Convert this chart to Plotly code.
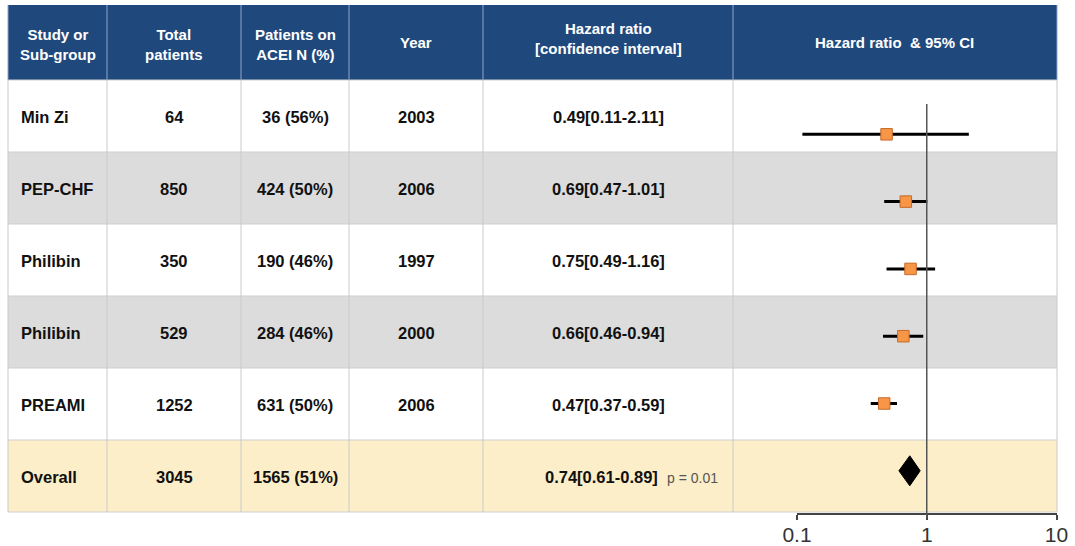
import plotly.graph_objects as go

# ---------------- data ----------------
studies = ["Min Zi", "PEP-CHF", "Philibin", "Philibin", "PREAMI", "Overall"]
total_patients = [64, 850, 350, 529, 1252, 3045]
acei_n = [36, 424, 190, 284, 631, 1565]
acei_pct = [56, 50, 46, 46, 50, 51]
years = ["2003", "2006", "1997", "2000", "2006", ""]
hr = [0.49, 0.69, 0.75, 0.66, 0.47, 0.74]
ci_low = [0.11, 0.47, 0.49, 0.46, 0.37, 0.61]
ci_high = [2.11, 1.01, 1.16, 0.94, 0.59, 0.89]
overall_p = "p = 0.01"
headers = ["Study or<br>Sub-group", "Total<br>patients", "Patients on<br>ACEI N (%)", "Year",
           "Hazard ratio<br>[confidence interval]", "Hazard ratio\u00a0 & 95% CI"]
tick_vals = [0.1, 1, 10]
tick_text = ["0.1", "1", "10"]

# ---------------- layout geometry (pixels) ----------------
W, H = 1075, 546
FONT = "Liberation Sans, Arial, sans-serif"
cols = [8, 107, 241, 349, 483, 733, 1057]
head_top, head_bot = 5, 80
row_h = 72
row_fills = ["#FFFFFF", "#DCDCDC", "#FFFFFF", "#DCDCDC", "#FFFFFF", "#FCEEC8"]
HEAD_BLUE = "#1F497D"

def fx(x):
    return x / W

def fy(y):
    return 1 - y / H

shapes = []
annotations = []

# header background
shapes.append(dict(type="rect", xref="paper", yref="paper", x0=fx(cols[0]), x1=fx(cols[-1]),
                   y0=fy(head_bot), y1=fy(head_top), fillcolor=HEAD_BLUE, line=dict(width=0),
                   layer="below"))
# row backgrounds
n = len(studies)
for i in range(n):
    t = head_bot + i * row_h
    shapes.append(dict(type="rect", xref="paper", yref="paper", x0=fx(cols[0]), x1=fx(cols[-1]),
                       y0=fy(t + row_h), y1=fy(t), fillcolor=row_fills[i], line=dict(width=0),
                       layer="below"))
table_bot = head_bot + n * row_h
# horizontal separators
for i in range(n + 1):
    y = head_bot + i * row_h
    shapes.append(dict(type="line", xref="paper", yref="paper", x0=fx(cols[0]), x1=fx(cols[-1]),
                       y0=fy(y), y1=fy(y), line=dict(color="#CFCFCF", width=1), layer="below"))
# vertical separators
for j, x in enumerate(cols):
    shapes.append(dict(type="line", xref="paper", yref="paper", x0=fx(x), x1=fx(x),
                       y0=fy(head_bot), y1=fy(head_top), line=dict(color="#8FA6C6", width=1),
                       layer="below"))
    shapes.append(dict(type="line", xref="paper", yref="paper", x0=fx(x), x1=fx(x),
                       y0=fy(table_bot), y1=fy(head_bot), line=dict(color="#CACACA", width=1),
                       layer="below"))

# header texts
head_y = [44, 44, 44, 43, 39, 43]
for j, h in enumerate(headers):
    cx = (cols[j] + cols[j + 1]) / 2
    annotations.append(dict(xref="paper", yref="paper", x=fx(cx), y=fy(head_y[j]), text="<b>" + h + "</b>",
                            showarrow=False, xanchor="center", yanchor="middle",
                            font=dict(family=FONT, size=15, color="white")))

# body texts
BODY = dict(family=FONT, size=16.5, color="#111111")
for i in range(n):
    cy = head_bot + i * row_h + row_h / 2 + 1
    annotations.append(dict(xref="paper", yref="paper", x=fx(cols[0] + 11), y=fy(cy),
                            text="<b>" + studies[i] + "</b>", showarrow=False,
                            xanchor="left", yanchor="middle", font=BODY))
    vals = [str(total_patients[i]), f"{acei_n[i]} ({acei_pct[i]}%)", years[i]]
    for k, v in enumerate(vals):
        if not v:
            continue
        cx = (cols[k + 1] + cols[k + 2]) / 2
        annotations.append(dict(xref="paper", yref="paper", x=fx(cx), y=fy(cy),
                                text="<b>" + v + "</b>", showarrow=False,
                                xanchor="center", yanchor="middle", font=BODY))
    hr_txt = f"{hr[i]:.2f}[{ci_low[i]:.2f}-{ci_high[i]:.2f}]"
    if studies[i] == "Overall":
        annotations.append(dict(xref="paper", yref="paper", x=fx(660), y=fy(cy),
                                text="<b>" + hr_txt + "</b>", showarrow=False,
                                xanchor="right", yanchor="middle", font=BODY))
        annotations.append(dict(xref="paper", yref="paper", x=fx(665), y=fy(cy + 1),
                                text=overall_p, showarrow=False,
                                xanchor="left", yanchor="middle",
                                font=dict(family=FONT, size=14, color="#555555")))
    else:
        cx = (cols[4] + cols[5]) / 2
        annotations.append(dict(xref="paper", yref="paper", x=fx(cx), y=fy(cy),
                                text="<b>" + hr_txt + "</b>", showarrow=False,
                                xanchor="center", yanchor="middle", font=BODY))

# ---------------- forest plot ----------------
ax_left, ax_right = 797, 1056.5
axis_y = table_bot + 1       # x-axis line pixel
first_y, step = 134.3, 67.3  # pixel of first marker and spacing
y_top_val = -first_y / step
y_bot_val = (axis_y - first_y) / step

study_idx = [i for i in range(n) if studies[i] != "Overall"]
ov = [i for i in range(n) if studies[i] == "Overall"][0]

lx, ly = [], []
for i in study_idx:
    lx += [ci_low[i], ci_high[i], None]
    ly += [i, i, None]

fig = go.Figure()
fig.add_trace(go.Scatter(x=lx, y=ly, mode="lines", line=dict(color="black", width=3),
                         hoverinfo="skip", showlegend=False))
fig.add_trace(go.Scatter(x=[hr[i] for i in study_idx], y=study_idx, mode="markers",
                         marker=dict(symbol="square", size=11.5, color="#F79646",
                                     line=dict(color="#C66A28", width=1)),
                         showlegend=False))
dh = 15 / step
fig.add_trace(go.Scatter(x=[ci_low[ov], hr[ov], ci_high[ov], hr[ov], ci_low[ov]],
                         y=[ov, ov - dh, ov, ov + dh, ov], mode="lines", fill="toself",
                         fillcolor="black", line=dict(color="black", width=1),
                         showlegend=False))

# reference line at HR = 1
shapes.append(dict(type="line", xref="x", yref="paper", x0=1, x1=1, y0=fy(518), y1=fy(104),
                   line=dict(color="#555555", width=1.5), layer="above"))

fig.update_layout(
    width=W, height=H, autosize=False,
    margin=dict(l=0, r=0, t=0, b=0, pad=0, autoexpand=False),
    paper_bgcolor="white", plot_bgcolor="rgba(0,0,0,0)",
    shapes=shapes, annotations=annotations, showlegend=False,
    xaxis=dict(type="log", range=[-1, 1], domain=[fx(ax_left), fx(ax_right)],
               tickvals=tick_vals, ticktext=tick_text, ticks="outside", ticklen=5,
               tickcolor="#444444", tickwidth=1.5, showline=True, linecolor="#444444",
               linewidth=1.5, showgrid=False, zeroline=False, automargin=False,
               ticklabelstandoff=-3,
               tickfont=dict(family=FONT, size=21, color="#333333")),
    yaxis=dict(range=[y_bot_val, y_top_val], domain=[1 - axis_y / H, 1], visible=False,
               showgrid=False, zeroline=False, automargin=False),
)

fig.write_html("out.html")
